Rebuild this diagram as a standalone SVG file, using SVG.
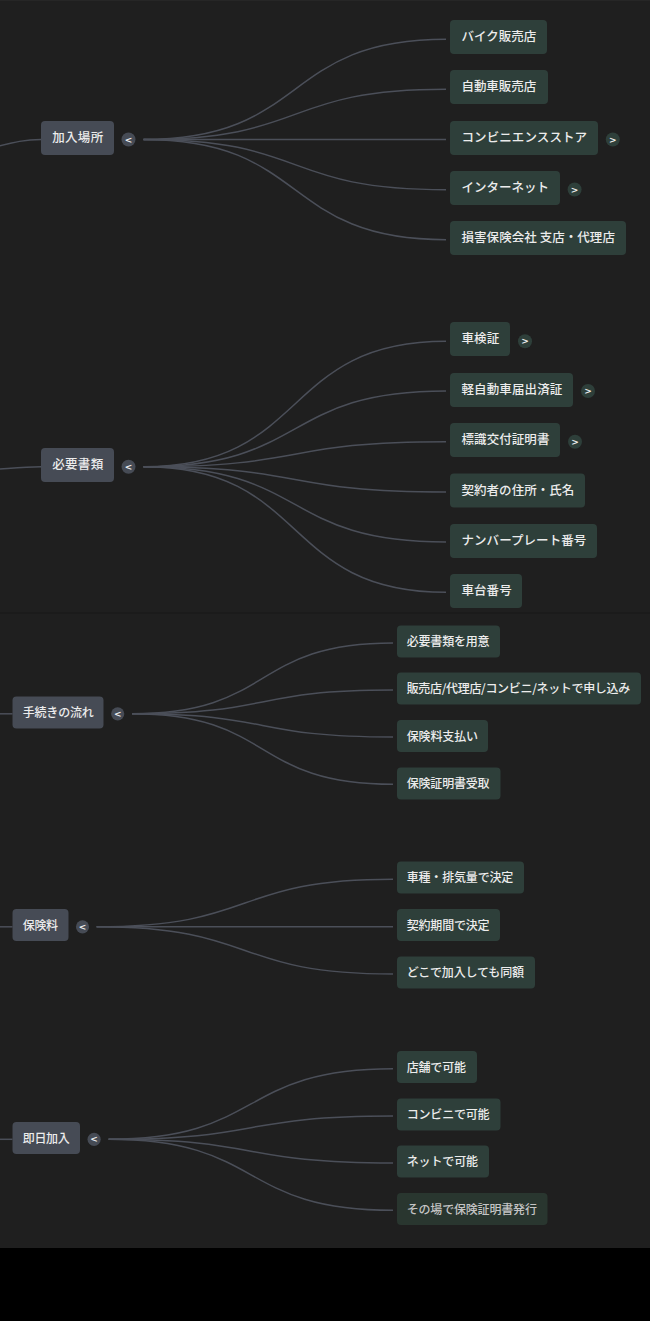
<svg xmlns="http://www.w3.org/2000/svg" width="650" height="1321" viewBox="0 0 650 1321">
<style>
.bg{fill:#1f1f1f}
.pbox{fill:#464b55}
.cbox{fill:#2e3f3a}
.dim{fill:#29362f}
.t1{font-family:"Noto Sans CJK JP","Noto Sans",sans-serif;font-size:12.5px;font-weight:500;fill:#ececec;dominant-baseline:central}
.t2{font-family:"Noto Sans CJK JP","Noto Sans",sans-serif;font-size:12px;font-weight:500;fill:#ececec;dominant-baseline:central}
.tdim{fill:#c4c4c4}
.pbtn{fill:#464b55}
.cbtn{fill:#2e3f3a}
.bt{font-family:"DejaVu Sans",sans-serif;font-size:9px;font-weight:bold;fill:#f0f0f0;text-anchor:middle;dominant-baseline:central}
.ln{fill:none;stroke:#4b4f59;stroke-width:1.5}
</style>
<rect x="0" y="0" width="650" height="1321" fill="#000"/>
<rect class="bg" x="0" y="0" width="650" height="1248"/>
<rect x="0" y="0" width="650" height="1" fill="#262626"/>
<rect x="0" y="612.5" width="650" height="1" fill="#191919"/>

<g id="connectors">
<path class="ln" d="M-5,147 C15,142 25,139.5 41,139.5"/>
<path class="ln" d="M143.5,139.5 C310,139.5 280,39.2 446,39.2"/>
<path class="ln" d="M143.5,139.5 C310,139.5 280,89.3 446,89.3"/>
<path class="ln" d="M143.5,139.5 L446,139.5"/>
<path class="ln" d="M143.5,139.5 C310,139.5 280,189.7 446,189.7"/>
<path class="ln" d="M143.5,139.5 C310,139.5 280,239.7 446,239.7"/>

<path class="ln" d="M-5,469.5 C15,468 25,466.8 41,466.8"/>
<path class="ln" d="M143.5,466.8 C310,466.8 280,341.3 446,341.3"/>
<path class="ln" d="M143.5,466.8 C310,466.8 280,391 446,391"/>
<path class="ln" d="M143.5,466.8 C310,466.8 280,441.7 446,441.7"/>
<path class="ln" d="M143.5,466.8 C310,466.8 280,492 446,492"/>
<path class="ln" d="M143.5,466.8 C310,466.8 280,542 446,542"/>
<path class="ln" d="M143.5,466.8 C310,466.8 280,592.3 446,592.3"/>

<path class="ln" d="M0,713.8 L12.5,713.8"/>
<path class="ln" d="M132,713.8 C275,713.8 250,643 393,643"/>
<path class="ln" d="M132,713.8 C275,713.8 250,690 393,690"/>
<path class="ln" d="M132,713.8 C275,713.8 250,737 393,737"/>
<path class="ln" d="M132,713.8 C275,713.8 250,784.3 393,784.3"/>

<path class="ln" d="M0,926.8 L12.5,926.8"/>
<path class="ln" d="M96.6,926.8 C260,926.8 230,879.3 393,879.3"/>
<path class="ln" d="M96.6,926.8 L393,926.8"/>
<path class="ln" d="M96.6,926.8 C260,926.8 230,974 393,974"/>

<path class="ln" d="M0,1139.3 L12.5,1139.3"/>
<path class="ln" d="M108.6,1139.3 C265,1139.3 237,1068.7 393,1068.7"/>
<path class="ln" d="M108.6,1139.3 C265,1139.3 237,1116 393,1116"/>
<path class="ln" d="M108.6,1139.3 C265,1139.3 237,1163 393,1163"/>
<path class="ln" d="M108.6,1139.3 C265,1139.3 237,1210.3 393,1210.3"/>
</g>

<g id="n-kanyubasho">
<rect class="pbox" x="41" y="121" width="73" height="34" rx="4"/>
<text class="t1" x="52.2" y="136.5" textLength="51">加入場所</text>
<circle class="pbtn" cx="128.5" cy="139.5" r="7"/>
<text class="bt" x="128.5" y="139.5">&lt;</text>
</g>
<g id="n-bike">
<rect class="cbox" x="450" y="20" width="97" height="34" rx="4"/>
<text class="t1" x="461.5" y="35.5" textLength="74.7">バイク販売店</text>
</g>
<g id="n-car">
<rect class="cbox" x="450" y="70" width="98" height="34" rx="4"/>
<text class="t1" x="461.5" y="85.5" textLength="74.7">自動車販売店</text>
</g>
<g id="n-conv">
<rect class="cbox" x="450" y="121" width="148" height="34" rx="4"/>
<text class="t1" x="461.5" y="136.5" textLength="125.6">コンビニエンスストア</text>
<circle class="cbtn" cx="612.8" cy="139.5" r="7"/>
<text class="bt" x="612.8" y="139.5">&gt;</text>
</g>
<g id="n-net">
<rect class="cbox" x="450" y="171" width="110" height="34" rx="4"/>
<text class="t1" x="461.5" y="186.5" textLength="87.5">インターネット</text>
<circle class="cbtn" cx="574.6" cy="189.5" r="7"/>
<text class="bt" x="574.6" y="189.5">&gt;</text>
</g>
<g id="n-agency">
<rect class="cbox" x="450" y="221" width="176" height="34" rx="4"/>
<text class="t1" x="461.5" y="236.5" textLength="153.4">損害保険会社 支店・代理店</text>
</g>

<g id="n-docs">
<rect class="pbox" x="41" y="448" width="73" height="34" rx="4"/>
<text class="t1" x="52.2" y="463.5" textLength="51">必要書類</text>
<circle class="pbtn" cx="128.5" cy="466.8" r="7"/>
<text class="bt" x="128.5" y="466.8">&lt;</text>
</g>
<g id="n-shaken">
<rect class="cbox" x="450" y="322" width="60" height="34" rx="4"/>
<text class="t1" x="461.5" y="337.5" textLength="37.7">車検証</text>
<circle class="cbtn" cx="525" cy="341.3" r="7"/>
<text class="bt" x="525" y="341.3">&gt;</text>
</g>
<g id="n-kei">
<rect class="cbox" x="450" y="373" width="123" height="34" rx="4"/>
<text class="t1" x="461.5" y="388.5" textLength="100.8">軽自動車届出済証</text>
<circle class="cbtn" cx="588" cy="391" r="7"/>
<text class="bt" x="588" y="391">&gt;</text>
</g>
<g id="n-hyoshiki">
<rect class="cbox" x="450" y="423" width="110" height="34" rx="4"/>
<text class="t1" x="461.5" y="438.5" textLength="87.9">標識交付証明書</text>
<circle class="cbtn" cx="575" cy="441.7" r="7"/>
<text class="bt" x="575" y="441.7">&gt;</text>
</g>
<g id="n-address">
<rect class="cbox" x="450" y="473.5" width="135" height="34" rx="4"/>
<text class="t1" x="461.5" y="489" textLength="112.8">契約者の住所・氏名</text>
</g>
<g id="n-plate">
<rect class="cbox" x="450" y="524" width="147" height="34" rx="4"/>
<text class="t1" x="461.5" y="539.5" textLength="124.8">ナンバープレート番号</text>
</g>
<g id="n-chassis">
<rect class="cbox" x="450" y="574" width="72" height="34" rx="4"/>
<text class="t1" x="461.5" y="589.5" textLength="50.2">車台番号</text>
</g>

<g id="n-flow">
<rect class="pbox" x="12.5" y="696.5" width="91" height="32" rx="4"/>
<text class="t2" x="22.8" y="711.8" textLength="70.9">手続きの流れ</text>
<circle class="pbtn" cx="117.7" cy="713.8" r="6.6"/>
<text class="bt" x="117.7" y="713.8">&lt;</text>
</g>
<g id="n-prepare">
<rect class="cbox" x="397" y="625.5" width="103" height="32" rx="4"/>
<text class="t2" x="406.7" y="640.8" textLength="82.9">必要書類を用意</text>
</g>
<g id="n-apply">
<rect class="cbox" x="397" y="672.5" width="244" height="32" rx="4"/>
<text class="t2" x="406.7" y="687.8" textLength="223.5">販売店/代理店/コンビニ/ネットで申し込み</text>
</g>
<g id="n-pay">
<rect class="cbox" x="397" y="720" width="91" height="32" rx="4"/>
<text class="t2" x="406.7" y="735.3" textLength="71.3">保険料支払い</text>
</g>
<g id="n-receive">
<rect class="cbox" x="397" y="767.5" width="103.5" height="32" rx="4"/>
<text class="t2" x="406.7" y="782.8" textLength="82.9">保険証明書受取</text>
</g>

<g id="n-premium">
<rect class="pbox" x="12.5" y="909" width="56" height="32" rx="4"/>
<text class="t2" x="22.8" y="924.3" textLength="35.2">保険料</text>
<circle class="pbtn" cx="82.5" cy="926.8" r="6.6"/>
<text class="bt" x="82.5" y="926.8">&lt;</text>
</g>
<g id="n-type">
<rect class="cbox" x="397" y="861.5" width="127" height="32" rx="4"/>
<text class="t2" x="406.7" y="876.8" textLength="106.6">車種・排気量で決定</text>
</g>
<g id="n-period">
<rect class="cbox" x="397" y="909" width="103" height="32" rx="4"/>
<text class="t2" x="406.7" y="924.3" textLength="82.9">契約期間で決定</text>
</g>
<g id="n-same">
<rect class="cbox" x="397" y="956.5" width="138" height="32" rx="4"/>
<text class="t2" x="406.7" y="971.8" textLength="117.3">どこで加入しても同額</text>
</g>

<g id="n-sameday">
<rect class="pbox" x="12.5" y="1122" width="67.5" height="32" rx="4"/>
<text class="t2" x="22.8" y="1137.3" textLength="46.9">即日加入</text>
<circle class="pbtn" cx="94.1" cy="1139.3" r="6.6"/>
<text class="bt" x="94.1" y="1139.3">&lt;</text>
</g>
<g id="n-store">
<rect class="cbox" x="397" y="1051" width="80" height="32" rx="4"/>
<text class="t2" x="406.7" y="1066.3" textLength="59.3">店舗で可能</text>
</g>
<g id="n-convok">
<rect class="cbox" x="397" y="1098.5" width="103.5" height="32" rx="4"/>
<text class="t2" x="406.7" y="1113.8" textLength="82.9">コンビニで可能</text>
</g>
<g id="n-netok">
<rect class="cbox" x="397" y="1145.5" width="92" height="32" rx="4"/>
<text class="t2" x="406.7" y="1160.8" textLength="71.3">ネットで可能</text>
</g>
<g id="n-onsite">
<rect class="dim" x="397" y="1193" width="150.5" height="32" rx="4"/>
<text class="t2 tdim" x="406.7" y="1208.3" textLength="130.2">その場で保険証明書発行</text>
</g>
</svg>
